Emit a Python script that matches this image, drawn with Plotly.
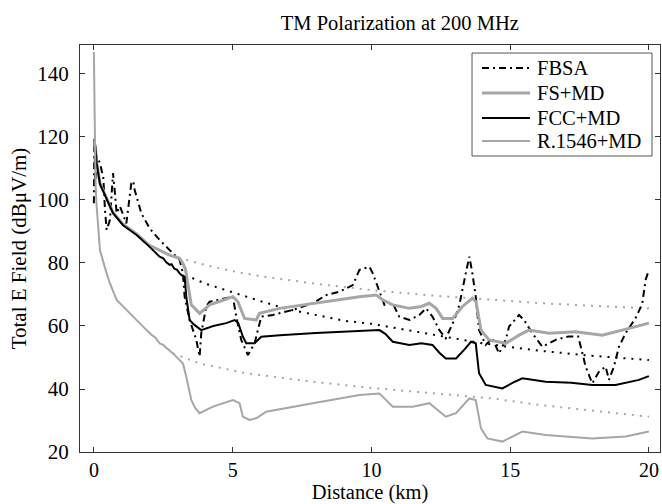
import plotly.graph_objects as go

# ---------------- data ----------------
fbsa_d = [0.0, 0.02, 0.05, 0.1, 0.22, 0.34, 0.4, 0.46, 0.58, 0.69, 0.75, 0.82, 0.94, 1.17, 1.35, 1.42,
          1.47, 1.59, 1.71, 2.01, 2.37, 2.73, 3.09, 3.21, 3.27, 3.45, 3.69, 3.81, 3.87, 4.05, 4.17, 4.6,
          5.01, 5.13, 5.31, 5.55, 5.79, 5.91, 6.03, 6.45, 7.17, 7.89, 8.37, 8.85, 9.33, 9.57, 9.93, 10.05,
          10.29, 10.47, 10.77, 11.0, 11.37, 11.73, 11.97, 12.2, 12.45, 12.68, 12.99, 13.17, 13.4, 13.53,
          13.64, 13.76, 13.88, 14.12, 14.36, 14.6, 14.84, 14.96, 15.32, 15.5, 15.8, 16.16, 16.4, 16.64,
          17.12, 17.45, 17.6, 17.72, 17.96, 18.2, 18.44, 18.56, 18.74, 18.92, 19.16, 19.52, 19.76, 19.88, 20.0]
fbsa_v = [99, 120, 105, 114, 111.7, 107, 96.8, 90.5, 93.7, 108.5, 103, 95.8, 98, 92.6, 105.3, 106,
          103.2, 99.6, 95.8, 91, 87.3, 84.1, 81, 76.7, 69.3, 61.9, 55.6, 50.3, 57.7, 66.2, 67.7, 68.5,
          69.3, 63, 55.6, 50.8, 54.5, 58.7, 63, 63.5, 65.1, 67.2, 69.8, 70.9, 73, 77.8, 78.8, 76.7,
          70.9, 66.7, 67.2, 63, 61.9, 63.5, 65.6, 63, 58.7, 56.1, 61.9, 66.7, 76.7, 82,
          76.7, 69.3, 58.7, 54, 56.1, 51.3, 55.6, 59.8, 63.5, 61.9, 57.7, 53.4, 54.5, 55.6,
          56.7, 56.7, 51.5, 47.1, 41.8, 45.5, 47.1, 42.9, 47.1, 53.4, 57.7, 62.5, 67, 74.6, 77.8]

fsmd_d = [0.05, 0.1, 0.22, 0.46, 0.69, 1.05, 1.54, 2.0, 2.37, 2.73, 3.09, 3.2, 3.3, 3.45, 3.51, 3.81,
          4.17, 4.6, 5.01, 5.19, 5.43, 5.85, 5.97, 6.69, 7.89, 8.85, 9.57, 10.17, 10.41, 10.77, 11.37,
          11.8, 12.09, 12.33, 12.57, 12.93, 13.28, 13.64, 13.77, 13.95, 14.24, 14.84, 15.32, 15.68, 16.4,
          17.36, 18.32, 19.04, 20.0]
fsmd_v = [117.5, 112, 105.3, 100.3, 96.1, 92.3, 89.2, 85.6, 84.1, 82.5, 81.5, 80, 78, 70, 66.7, 64,
          66.7, 68, 69.3, 67.7, 62.4, 61.9, 64, 65.6, 67.2, 68.3, 69.3, 69.8, 68.3, 66.7, 65.6,
          66.2, 67.2, 65.6, 62.4, 62.4, 66.2, 68.8, 67.7, 58.7, 55.6, 54.5, 57.1, 58.7, 57.7,
          58.2, 57.1, 58.7, 60.9]

fcc_d = [0.05, 0.1, 0.22, 0.46, 0.69, 1.05, 1.54, 2.0, 2.37, 2.5, 2.6, 2.73, 2.8, 2.9, 3.0, 3.09, 3.15,
         3.27, 3.33, 3.45, 3.6, 3.87, 4.3, 4.77, 5.07, 5.2, 5.37, 5.49, 5.79, 6.03, 6.7, 8.0, 9.0, 9.93,
         10.29, 10.5, 10.77, 11.37, 11.8, 12.2, 12.45, 12.68, 13.05, 13.35, 13.59, 13.76, 13.88, 14.12,
         14.72, 15.1, 15.44, 16.28, 17.2, 17.96, 18.8, 19.64, 20.0]
fcc_v = [117, 111.7, 105, 100, 95.8, 92, 88.9, 85.2, 82, 81.5, 80.3, 79.4, 79.6, 78.2, 77.8, 76.7, 76.2,
         75.6, 69.3, 61.9, 60.5, 58.7, 60, 60.9, 61.9, 61, 56.6, 54.5, 54.5, 56.6, 57.1, 57.8, 58.2, 58.7,
         58.7, 57.5, 55, 54, 54.5, 54, 51.5, 49.7, 49.7, 52.5, 55, 54.5, 45, 41.3,
         40.2, 42, 43.4, 42.3, 42, 41.3, 41.3, 42.9, 44.1]

r1546_d = [0.0, 0.01, 0.03, 0.06, 0.1, 0.22, 0.46, 0.58, 0.82, 1.05, 1.29, 1.9, 2.1, 2.2, 2.37, 2.5, 2.6,
           2.85, 3.21, 3.33, 3.51, 3.65, 3.81, 4.29, 5.01, 5.25, 5.37, 5.61, 5.85, 6.21, 7.89, 9.57, 10.29,
           10.77, 11.49, 12.09, 12.68, 13.05, 13.53, 13.76, 13.95, 14.18, 14.72, 15.44, 16.28, 17.96,
           19.16, 20.0]
r1546_v = [147, 135, 120, 105, 98, 84, 76.7, 73.5, 68.3, 66.2, 64, 58.7, 57, 56.5, 54.5, 54, 53.2,
           51.3, 48.1, 43.9, 36.5, 34, 32.3, 34.4, 36.5, 35.5, 31.2, 30.2, 30.7, 32.8, 35.5, 38.1, 38.6,
           34.4, 34.4, 35.5, 31.2, 32.3, 37, 36.5, 27.5, 24.3, 23.3, 26.5, 25.4, 24.3,
           24.9, 26.5]

ref_top_d = [3.33, 4, 5, 6, 8, 10, 12, 14, 16, 18, 20]
ref_top_v = [81, 79.4, 77.4, 75.8, 73.4, 71.4, 69.8, 68.5, 67.3, 66.4, 65.6]

ref_mid_d = [3.3, 3.45, 4, 5, 6, 7, 8, 9, 10, 12, 14, 16, 18, 20]
ref_mid_v = [76.5, 75.6, 73.5, 70.6, 67.9, 65.3, 63.4, 61.7, 60.7, 57.5, 54.5, 52.2, 50.5, 49.2]

ref_low_d = [2.85, 3.81, 5.49, 7.89, 9.93, 12, 14.36, 16, 18, 20]
ref_low_v = [51.3, 48.1, 45, 42.3, 40.4, 38.7, 37, 35, 33, 31.2]

series_names = ["FBSA", "FS+MD", "FCC+MD", "R.1546+MD"]
x_ticks = [0, 5, 10, 15, 20]
y_ticks = [20, 40, 60, 80, 100, 120, 140]

# ---------------- styles ----------------
GRAY = "#a6a6a6"
FONT = "Liberation Serif"
DOT = "2px,6px"
DASHDOT = "7px,4px,2px,4px"
styles = [dict(color="black", width=2, dash=DASHDOT),
          dict(color=GRAY, width=3, dash="solid"),
          dict(color="black", width=2, dash="solid"),
          dict(color=GRAY, width=2, dash="solid")]

fig = go.Figure()

for d, v, c in [(ref_top_d, ref_top_v, GRAY), (ref_mid_d, ref_mid_v, "black"), (ref_low_d, ref_low_v, GRAY)]:
    fig.add_trace(go.Scatter(x=d, y=v, mode="lines", showlegend=False, hoverinfo="skip",
                             line=dict(color=c, width=2, dash=DOT)))

for name, d, v, st in zip(series_names, [fbsa_d, fsmd_d, fcc_d, r1546_d],
                          [fbsa_v, fsmd_v, fcc_v, r1546_v], styles):
    fig.add_trace(go.Scatter(x=d, y=v, mode="lines", name=name, showlegend=False, line=st))

# ---------------- legend box (drawn in paper coordinates) ----------------
box = dict(x0=0.6759, x1=0.9862, y0=0.7273, y1=0.9803)
fig.add_shape(type="rect", xref="paper", yref="paper", layer="above",
              fillcolor="white", line=dict(color="#555555", width=1), **box)
entry_y = [0.9435, 0.8821, 0.8206, 0.7641]
for name, st, yy in zip(series_names, styles, entry_y):
    fig.add_shape(type="line", xref="paper", yref="paper", layer="above",
                  x0=0.6931, x1=0.7759, y0=yy, y1=yy, line=st)
    fig.add_annotation(text=name, xref="paper", yref="paper", x=0.7845, y=yy,
                       xanchor="left", yanchor="middle", showarrow=False,
                       font=dict(family=FONT, size=20.5, color="black"))

axis_common = dict(showgrid=False, zeroline=False, showline=True, linecolor="#333333", linewidth=1,
                   mirror="ticks", ticks="inside", ticklen=5, tickcolor="#333333")

fig.update_layout(
    width=662, height=504,
    margin=dict(l=80, r=2, t=45, b=52),
    paper_bgcolor="white", plot_bgcolor="white",
    title=dict(text="TM Polarization at 200 MHz", x=0.604, xanchor="center", y=0.955, yanchor="middle",
               font=dict(family=FONT, size=20.5, color="black")),
    xaxis=dict(range=[-0.5, 20.4], tickvals=x_ticks, ticklabelstandoff=0,
               tickfont=dict(family=FONT, size=20, color="black"),
               title=dict(text="Distance (km)", font=dict(family=FONT, size=20.5, color="black"), standoff=2),
               **axis_common),
    yaxis=dict(range=[20, 149.2], tickvals=y_ticks, ticklabelstandoff=6,
               tickfont=dict(family=FONT, size=21, color="black"),
               title=dict(text="Total E Field (dBμV/m)", font=dict(family=FONT, size=21, color="black"), standoff=4),
               **axis_common),
    showlegend=False,
)

fig.write_html("out.html", config={"displayModeBar": False},
               post_script="document.body.style.margin='0';document.body.style.overflow='hidden';")
